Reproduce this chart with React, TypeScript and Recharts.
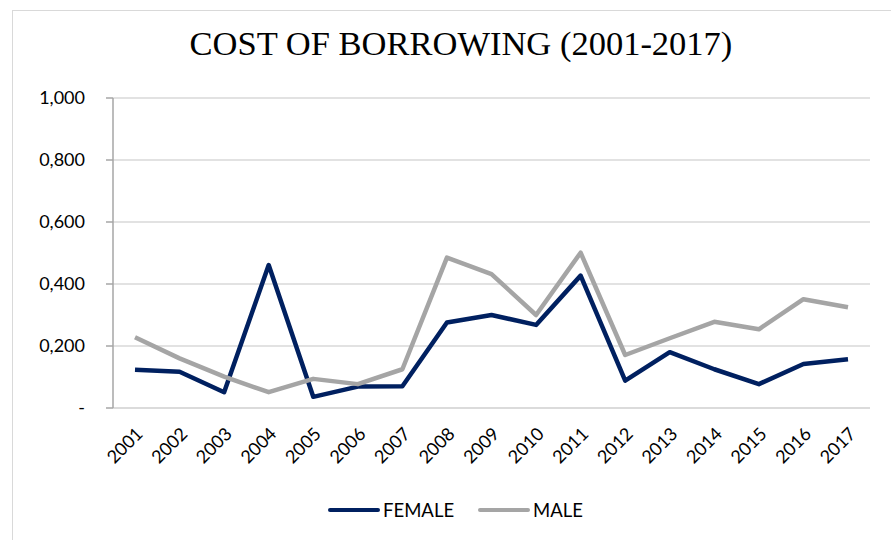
import React from 'react';
import { LineChart, Line, XAxis, YAxis, CartesianGrid, Legend } from 'recharts';

const years = ['2001', '2002', '2003', '2004', '2005', '2006', '2007', '2008', '2009', '2010', '2011', '2012', '2013', '2014', '2015', '2016', '2017'];
const female = [0.123, 0.117, 0.051, 0.461, 0.036, 0.069, 0.07, 0.276, 0.3, 0.268, 0.427, 0.088, 0.18, 0.125, 0.077, 0.142, 0.157];
const male = [0.228, 0.16, 0.101, 0.051, 0.094, 0.077, 0.125, 0.485, 0.432, 0.3, 0.501, 0.171, 0.225, 0.278, 0.254, 0.351, 0.325];
const yTicks = [0, 0.2, 0.4, 0.6, 0.8, 1];

const NAVY = '#002060';
const GREY = '#a5a5a5';
const FONT = 'Lato, "Open Sans", sans-serif';

const data = years.map((y, i) => ({ year: y, FEMALE: female[i], MALE: male[i] }));

const fmtY = (v: number) => (v === 0 ? '-' : v.toFixed(3).replace('.', ','));

function YearTick(props: any) {
  const { x, y, payload } = props;
  return (
    <g transform={`translate(${x + 9},${y + 19}) rotate(-45)`}>
      <text x={0} y={0} textAnchor="end" fill="#000" fontSize={18} fontFamily={FONT}>
        {payload.value}
      </text>
    </g>
  );
}

function LegendBox() {
  const items = [
    { name: 'FEMALE', color: NAVY },
    { name: 'MALE', color: GREY },
  ];
  return (
    <div style={{ display: 'flex', justifyContent: 'center', gap: 24, fontFamily: FONT, fontSize: 18.5, paddingLeft: 20 }}>
      {items.map((it) => (
        <div key={it.name} style={{ display: 'flex', alignItems: 'center', gap: 3 }}>
          <div style={{ width: 52, height: 4, background: it.color, borderRadius: 2 }} />
          <span>{it.name}</span>
        </div>
      ))}
    </div>
  );
}

export default function App() {
  return (
    <div style={{ position: 'absolute', left: 0, top: 0, width: 891, height: 540, overflow: 'hidden', background: '#fff' }}>
      <div style={{ position: 'absolute', left: 12, top: 10, width: 900, height: 560, border: '1px solid #d9d9d9' }} />
      <div
        style={{
          position: 'absolute',
          left: 0,
          top: 24,
          width: 922,
          textAlign: 'center',
          fontFamily: '"Liberation Serif", "Times New Roman", serif',
          fontSize: 34.5,
          color: '#000',
        }}
      >
        COST OF BORROWING (2001-2017)
      </div>
      <div style={{ position: 'absolute', left: 0, top: 0 }}>
        <LineChart width={891} height={540} data={data} margin={{ top: 98, right: 21, left: 0, bottom: 72 }}>
          <CartesianGrid vertical={false} stroke="#d9d9d9" strokeWidth={1.5} />
          <XAxis
            dataKey="year"
            tick={<YearTick />}
            tickLine={false}
            axisLine={{ stroke: '#d9d9d9', strokeWidth: 1.5 }}
            interval={0}
            height={60}
            padding={{ left: 22, right: 22 }}
          />
          <YAxis
            width={113}
            domain={[0, 1]}
            ticks={yTicks}
            tickFormatter={fmtY}
            tick={{ fill: '#000', fontSize: 18, fontFamily: FONT }}
            tickSize={7}
            tickMargin={21}
            tickLine={{ stroke: '#a6a6a6', strokeWidth: 1.5 }}
            axisLine={{ stroke: '#a6a6a6', strokeWidth: 1.5 }}
          />
          <Legend
            layout="horizontal"
            verticalAlign="middle"
            align="center"
            wrapperStyle={{ top: 499, left: 0, width: 891 }}
            content={<LegendBox />}
          />
          <Line type="linear" dataKey="FEMALE" stroke={NAVY} strokeWidth={4.5} dot={false} strokeLinejoin="round" isAnimationActive={false} />
          <Line type="linear" dataKey="MALE" stroke={GREY} strokeWidth={4.5} dot={false} strokeLinejoin="round" isAnimationActive={false} />
        </LineChart>
      </div>
    </div>
  );
}
